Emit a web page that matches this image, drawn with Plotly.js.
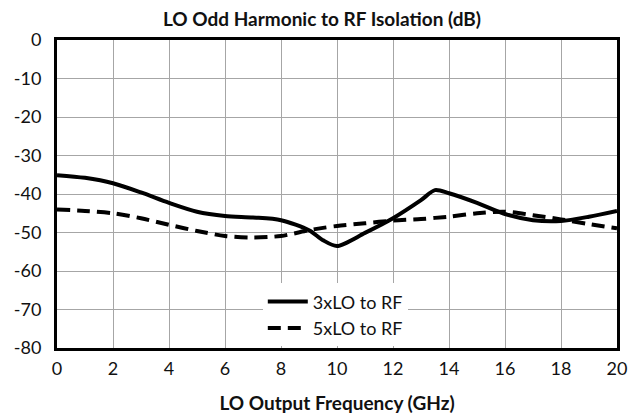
<!DOCTYPE html>
<html>
<head>
<meta charset="utf-8">
<script src="https://cdn.plot.ly/plotly-3.0.1.min.js"></script>
<style>html,body{margin:0;padding:0;background:#fff;}#chart{width:644px;height:420px;}</style>
</head>
<body>
<div id="chart"></div>
<script>
var freqGHz = [0, 1, 2, 3, 4, 5, 6, 7, 8, 9, 9.5, 10, 11, 12, 13, 13.5, 14, 15, 16, 17, 18, 19, 20];
var iso3xLO = [-35.1, -35.8, -37.2, -39.6, -42.3, -44.6, -45.7, -46.1, -46.8, -49.4, -52, -53.5, -50.1, -46.3, -41.6, -39, -39.8, -42.3, -45.2, -46.8, -47, -45.9, -44.4];
var iso5xLO = [-44, -44.4, -45, -46.3, -48, -49.6, -50.9, -51.3, -50.9, -49.4, -48.8, -48.3, -47.6, -46.9, -46.5, -46.2, -45.9, -45, -44.6, -45.5, -46.6, -47.8, -48.9];
var seriesNames = ['3xLO to RF', '5xLO to RF'];
var xTicks = [0, 2, 4, 6, 8, 10, 12, 14, 16, 18, 20];
var yTicks = [0, -10, -20, -30, -40, -50, -60, -70, -80];

var fontFam = 'Lato, "Open Sans", sans-serif';
var traces = [
  {x: freqGHz, y: iso3xLO, name: seriesNames[0], mode: 'lines',
   line: {color: '#000', width: 4, shape: 'spline', smoothing: 0.8}},
  {x: freqGHz, y: iso5xLO, name: seriesNames[1], mode: 'lines',
   line: {color: '#000', width: 4, dash: '13px,7px', shape: 'spline', smoothing: 0.8}}
];
var layout = {
  width: 644, height: 420,
  margin: {l: 57, r: 27, t: 40, b: 72},
  paper_bgcolor: '#fff', plot_bgcolor: '#fff',
  font: {family: fontFam, size: 18, color: '#111'},
  title: {text: '<b>LO Odd Harmonic to RF Isolation (dB)</b>', font: {family: fontFam, size: 19, color: '#111'},
          x: 0.5, xanchor: 'center', y: 0.955, yanchor: 'middle'},
  xaxis: {range: [0, 20], tickvals: xTicks, ticktext: xTicks.map(String),
          showgrid: true, gridcolor: '#a6a6a6', gridwidth: 1,
          showline: true, linecolor: '#000', linewidth: 3, mirror: true,
          ticks: '', ticklen: 0, zeroline: false, tickfont: {size: 18}, automargin: false,
          ticklabelstandoff: 2,
          title: {text: '<b>LO Output Frequency (GHz)</b>', font: {size: 19}, standoff: 20}},
  yaxis: {range: [-80, 0], tickvals: yTicks, ticktext: yTicks.map(String),
          showgrid: true, gridcolor: '#a6a6a6', gridwidth: 1,
          showline: true, linecolor: '#000', linewidth: 3, mirror: true,
          ticks: '', zeroline: false, tickfont: {size: 18}, automargin: false,
          ticklabelstandoff: 9},
  showlegend: true,
  legend: {x: 0.3675, y: 0.21, xanchor: 'left', yanchor: 'top', bgcolor: '#fff',
           font: {size: 18}, tracegroupgap: 0, itemwidth: 40}
};
Plotly.newPlot('chart', traces, layout, {staticPlot: true, displayModeBar: false});
</script>
</body>
</html>
